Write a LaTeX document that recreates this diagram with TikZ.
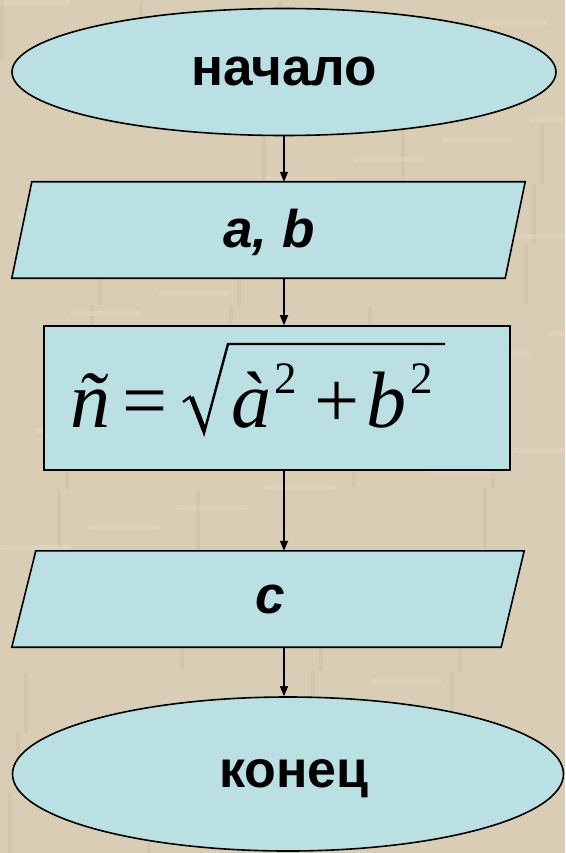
\documentclass[tikz,border=0pt]{standalone}
\usepackage{fontspec}
\setmainfont{Liberation Sans}
\newfontfamily\tmsfont{Liberation Serif}
\usetikzlibrary{shapes.geometric,arrows.meta,calc}
\definecolor{bgbeige}{RGB}{218,205,182}
\definecolor{bglight}{RGB}{236,224,204}
\definecolor{bgdark}{RGB}{196,182,160}
\definecolor{boxblue}{RGB}{186,224,228}
\begin{document}
\begin{tikzpicture}[x=1pt,y=-1pt,
  shapeline/.style={draw=black,line width=1.6pt,fill=boxblue,inner sep=0pt},
  terminal/.style={shapeline,ellipse},
  iobox/.style={rectangle,inner sep=0pt},
  iofill/.style={draw=black,line width=1.6pt,fill=boxblue,line join=miter},
  procbox/.style={shapeline,rectangle},
  lbl/.style={font=\fontsize{53}{56}\selectfont\bfseries},
  lbli/.style={font=\fontsize{53}{56}\selectfont\bfseries\itshape},
  fbig/.style={inner sep=0pt,anchor=base west,font=\tmsfont\fontsize{80}{84}\selectfont},
  fsup/.style={inner sep=0pt,anchor=base west,font=\tmsfont\fontsize{45}{48}\selectfont},
  flow/.style={line width=1.3pt,-{Triangle[length=10pt,width=8pt]}}]
\useasboundingbox (0,0) rectangle (565,853);
\fill[bgbeige] (0,0) rectangle (565,853);
% subtle background texture
\foreach \i in {0,...,40}{
  \pgfmathsetmacro{\yy}{mod(\i*97,853)}
  \pgfmathsetmacro{\xx}{mod(\i*53,565)}
  \fill[bglight,opacity=0.35] (\xx,\yy) rectangle ++(70,5);
  \fill[bgdark,opacity=0.3] ({mod(\i*131,565)},{mod(\i*61,853)}) rectangle ++(4,60);
}
\node[terminal,minimum width=544pt,minimum height=127pt] (start) at (284,72) {};
\node[lbl] (startlbl) at (start.center) {начало};
\node[iobox,minimum width=513pt,minimum height=96pt] (in) at (268.5,230) {};
\filldraw[iofill] ($(in.north west)+(20,0)$) -- (in.north east) -- ($(in.south east)+(-20,0)$) -- (in.south west) -- cycle;
\node[lbli] (inlbl) at (269,232) {a, b};
\node[procbox,minimum width=466pt,minimum height=144pt] (calc) at (277,398) {};
% formula  c = sqrt(a^2 + b^2), printed with mis-encoded glyphs
\node[fbig,font=\tmsfont\itshape\fontsize{80}{84}\selectfont] (fn) at (70,427) {ñ};
\node[fbig] (feq) at (122,427) {=};
\draw[line width=2.4pt,line join=miter] (183,402) -- (190,397) -- (204,433) -- (228,344) -- (445,344);
\draw[line width=4.5pt,line cap=butt] (191.5,397) -- (204,429);
\node[fbig,font=\tmsfont\itshape\fontsize{80}{84}\selectfont] (fa) at (231,427) {à};
\node[fsup] (fa2) at (274,393) {2};
\node[fbig] (fplus) at (314,427) {+};
\node[fbig,font=\tmsfont\itshape\fontsize{80}{84}\selectfont] (fb) at (366,427) {b};
\node[fsup] (fb2) at (410,393) {2};
\node[iobox,minimum width=512pt,minimum height=96pt] (out) at (268,599) {};
\filldraw[iofill] ($(out.north west)+(24,0)$) -- (out.north east) -- ($(out.south east)+(-23,0)$) -- (out.south west) -- cycle;
\node[lbli] (outlbl) at (270,599) {c};
\node[terminal,minimum width=551pt,minimum height=154pt] (stop) at (288,774) {};
\node[lbl,font=\fontsize{52}{56}\selectfont\bfseries] (stoplbl) at (294,779) {конец};
\draw[flow] (start.south) -- (start.south |- in.north);
\draw[flow] (start.south |- in.south) -- (start.south |- calc.north);
\draw[flow] (start.south |- calc.south) -- (start.south |- out.north);
\draw[flow] (start.south |- out.south) -- (start.south |- stop.north);
\end{tikzpicture}
\end{document}
